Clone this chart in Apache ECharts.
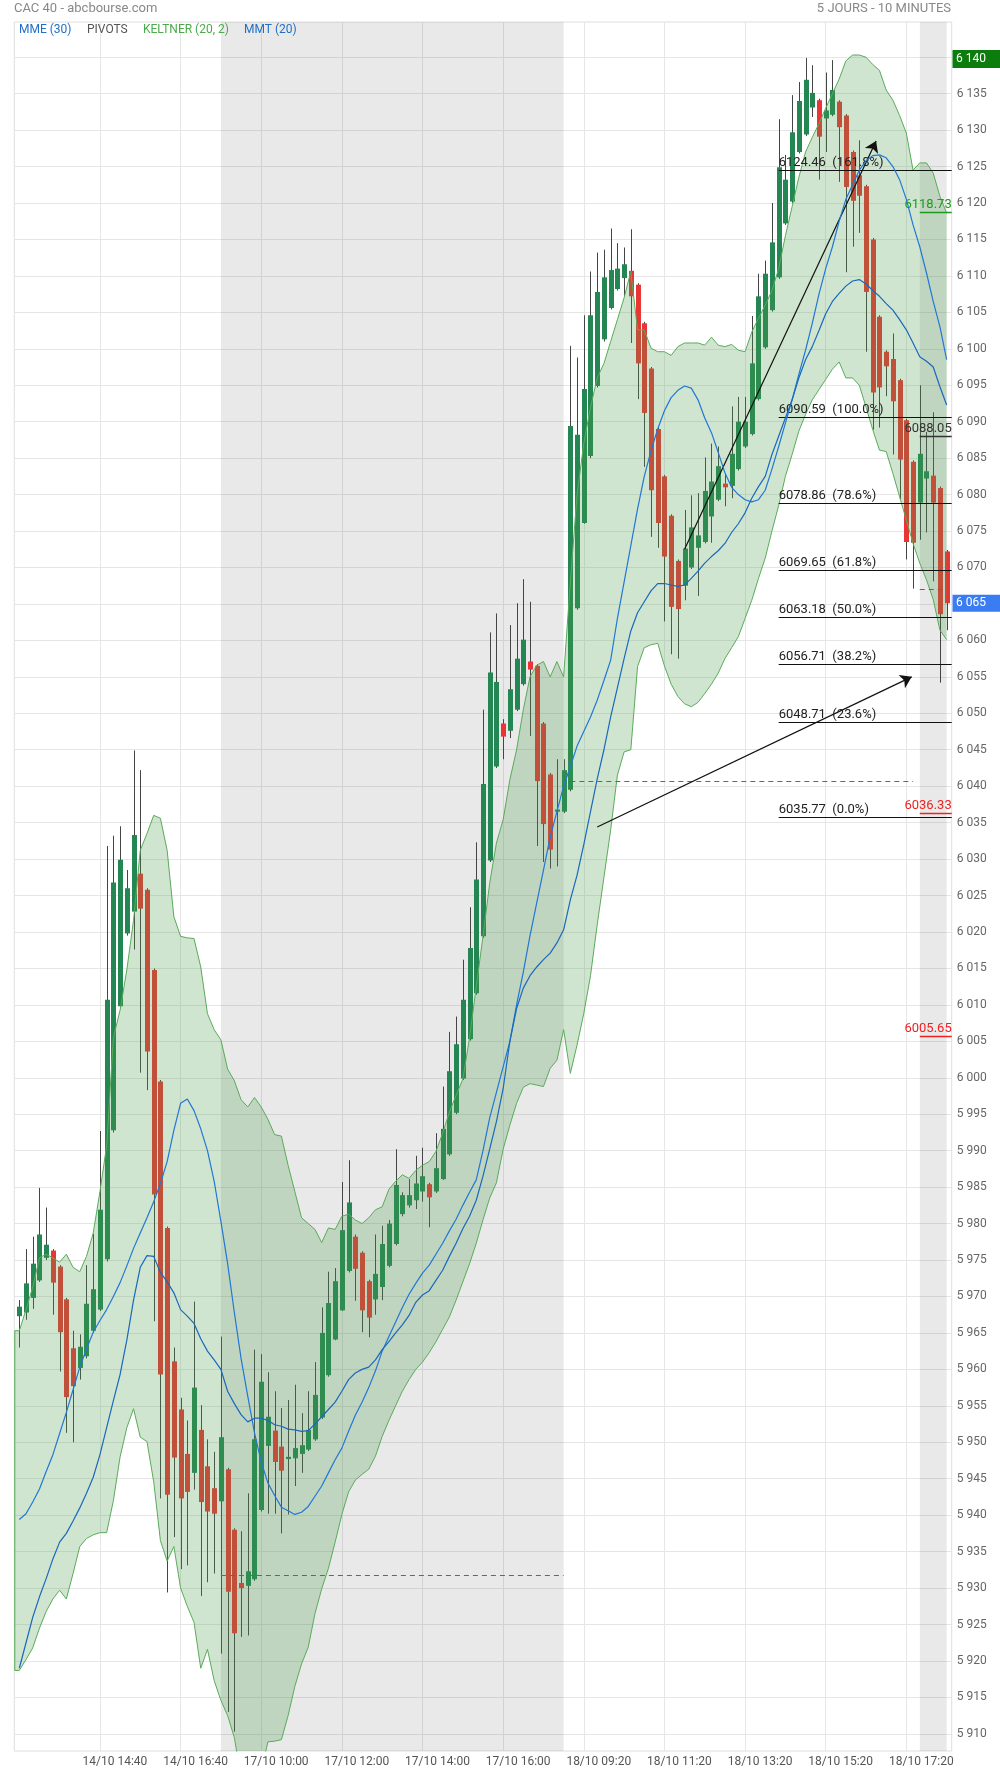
<!DOCTYPE html>
<html><head><meta charset="utf-8">
<script src="https://cdn.jsdelivr.net/npm/echarts@6/dist/echarts.min.js"></script>
<style>html,body{margin:0;padding:0;background:#fff}#c{width:1000px;height:1774px}</style>
</head><body><div id="c"></div>
<script>
// ---------- DATA ----------
const opens = [5967.3,5967.8,5969.8,5972.2,5975.3,5976.3,5974.1,5969.6,5962.9,5960.2,
5961.8,5965.3,5968.2,5975.1,5992.8,6009.8,6019.8,6022.8,6028.0,6025.8,
6014.8,5999.5,5979.4,5961.1,5954.5,5948.4,5945.8,5951.7,5946.7,5943.7,
5941.9,5946.3,5938.0,5930.7,5930.3,5931.2,5940.7,5949.5,5951.6,5949.4,
5947.7,5947.8,5948.4,5949.0,5950.4,5953.4,5959.2,5964.1,5968.1,5973.5,
5978.2,5976.0,5972.1,5969.6,5971.3,5974.2,5977.2,5981.3,5982.5,5983.2,
5984.4,5985.4,5984.4,5986.1,5989.5,5995.2,5999.9,6005.3,6011.6,6019.4,
6029.8,6042.7,6048.6,6047.6,6050.5,6054.0,6057.1,6056.5,6048.6,6041.6,
6036.5,6036.5,6039.5,6064.4,6076.1,6085.3,6094.9,6101.3,6105.6,6108.2,
6109.7,6110.7,6108.8,6103.5,6097.3,6089.0,6082.5,6077.1,6070.9,6067.5,
6070.0,6072.7,6073.5,6077.0,6079.3,6081.5,6081.2,6083.5,6086.6,6088.3,
6093.1,6100.2,6105.3,6109.8,6117.2,6120.2,6127.0,6129.4,6133.1,6134.1,
6131.6,6132.1,6133.9,6132.0,6127.0,6123.8,6122.3,6115.0,6104.4,6099.6,
6098.6,6095.7,6090.2,6084.5,6078.9,6082.2,6082.6,6080.9,6072.2];
const closes = [5968.6,5971.8,5974.5,5978.5,5977.1,5971.9,5965.1,5956.2,5957.7,5963.1,
5969.0,5971.0,5981.9,6010.7,6026.8,6029.9,6026.0,6033.3,6023.2,6003.6,
5984.0,5959.3,5942.8,5947.9,5942.3,5943.2,5957.5,5941.8,5940.5,5940.2,
5950.7,5929.5,5923.8,5930.0,5932.3,5950.4,5958.3,5953.5,5947.3,5946.1,
5948.0,5949.2,5949.6,5951.7,5956.5,5965.0,5969.1,5972.1,5979.1,5982.9,
5973.8,5968.1,5967.1,5973.1,5977.2,5980.0,5985.3,5983.9,5983.9,5985.5,
5986.5,5983.6,5987.6,5993.0,6000.9,6004.6,6010.7,6017.8,6027.2,6040.3,
6055.6,6054.3,6046.8,6053.3,6057.5,6060.1,6056.0,6040.7,6034.8,6031.3,
6036.8,6042.2,6089.4,6088.2,6094.5,6104.6,6107.8,6109.8,6110.8,6111.0,
6111.6,6107.2,6098.0,6091.2,6080.6,6076.1,6071.5,6064.6,6064.3,6072.6,
6075.5,6074.4,6080.5,6081.8,6083.9,6081.0,6085.6,6090.0,6090.0,6098.0,
6107.2,6110.3,6114.6,6124.9,6123.2,6129.7,6134.0,6136.9,6135.1,6129.1,
6132.7,6135.5,6130.4,6122.2,6120.3,6121.0,6107.8,6094.0,6094.7,6097.6,
6092.8,6084.8,6073.5,6073.4,6085.6,6083.2,6078.9,6063.6,6065.1];
const highs = [5969.5,5976.5,5978.2,5984.9,5982.2,5976.5,5974.3,5969.8,5965.3,5964.8,
5974.3,5978.6,5992.7,6031.8,6033.2,6034.5,6028.5,6044.9,6042.2,6026.0,
6015.0,5999.7,5979.6,5963.0,5956.1,5953.0,5969.3,5955.1,5950.4,5948.7,
5964.5,5946.5,5938.2,5937.8,5943.0,5962.7,5962.1,5959.6,5957.0,5954.7,
5955.8,5957.9,5954.0,5957.0,5961.0,5968.5,5973.4,5973.9,5985.7,5988.7,
5978.5,5976.2,5972.3,5978.5,5979.7,5980.5,5990.2,5984.3,5986.1,5989.3,
5990.4,5985.6,5992.4,5998.8,6006.3,6008.4,6016.2,6023.4,6032.3,6050.5,
6061.1,6063.7,6049.2,6062.1,6065.1,6068.4,6065.3,6056.7,6048.8,6041.8,
6043.7,6043.7,6100.4,6098.8,6104.6,6110.6,6113.2,6113.6,6116.5,6114.5,
6113.9,6116.4,6109.0,6103.7,6097.5,6089.2,6082.7,6077.3,6071.1,6077.9,
6079.9,6080.2,6085.1,6087.0,6086.6,6082.9,6092.1,6093.4,6093.4,6104.5,
6110.3,6112.1,6120.0,6131.5,6126.6,6134.8,6136.6,6139.9,6138.9,6134.3,
6137.9,6139.6,6134.1,6132.2,6127.2,6128.6,6122.5,6115.2,6104.6,6099.8,
6102.1,6095.9,6090.4,6084.7,6095.0,6088.6,6091.3,6081.1,6072.4];
const lows = [5963.0,5966.8,5968.3,5972.0,5975.0,5967.5,5959.7,5951.3,5950.0,5958.6,
5961.5,5965.0,5968.0,5974.8,5992.5,6009.5,6019.5,6017.6,6000.7,5998.3,
5966.6,5942.3,5929.4,5937.0,5932.6,5933.1,5943.5,5928.9,5930.8,5932.0,
5921.0,5913.0,5910.3,5923.3,5923.5,5931.0,5940.5,5940.2,5940.2,5937.5,
5940.1,5944.0,5945.8,5948.8,5950.2,5953.2,5959.0,5964.0,5968.0,5973.3,
5969.4,5965.1,5964.4,5967.5,5969.5,5974.0,5977.0,5981.0,5982.2,5982.0,
5983.0,5979.5,5984.2,5986.0,5989.3,5995.0,5999.7,6005.1,6011.4,6019.2,
6029.6,6042.5,6043.7,6046.6,6050.3,6053.8,6046.9,6031.8,6029.6,6028.7,
6029.0,6036.3,6039.3,6064.2,6076.0,6085.0,6094.7,6101.0,6105.4,6108.0,
6107.2,6100.8,6093.1,6083.8,6074.2,6072.7,6062.6,6058.1,6057.5,6065.5,
6069.8,6066.1,6073.3,6073.4,6079.1,6078.4,6079.5,6083.3,6086.4,6088.1,
6092.9,6100.0,6105.1,6109.6,6117.0,6120.0,6126.8,6129.2,6131.8,6123.2,
6127.0,6131.9,6122.9,6110.5,6114.0,6115.9,6099.6,6088.9,6089.2,6093.5,
6085.5,6079.4,6071.1,6067.1,6073.8,6074.8,6068.1,6054.2,6061.4];
const keltnerUpper = [5965.3,5968.2,5971.3,5975.3,5975.8,5975.3,5974.7,5975.8,5974.0,5973.4,
5975.5,5978.7,5984.4,5990.7,6005.5,6009.3,6014.8,6021.6,6031.2,6033.5,
6036.0,6035.6,6031.2,6022.1,6019.4,6019.2,6019.1,6015.2,6008.8,6006.6,
6005.2,6001.2,5999.6,5997.0,5996.0,5997.3,5996.0,5994.3,5992.2,5992.0,
5988.0,5984.4,5980.8,5980.0,5979.2,5977.4,5979.4,5979.2,5981.0,5981.3,
5980.5,5980.0,5980.8,5981.9,5982.3,5984.7,5985.8,5986.7,5986.2,5987.3,
5988.0,5988.5,5989.9,5992.4,5995.3,5997.6,5999.8,6005.5,6012.5,6019.4,
6026.7,6032.2,6035.4,6040.9,6045.0,6050.5,6055.0,6056.6,6057.1,6055.0,
6057.1,6055.0,6068.0,6080.0,6087.0,6092.0,6096.0,6098.0,6101.0,6104.0,
6107.0,6110.6,6102.6,6102.6,6100.1,6099.6,6099.6,6099.1,6100.3,6100.8,
6100.8,6100.8,6100.5,6101.6,6100.5,6100.3,6100.6,6099.8,6099.6,6102.3,
6104.2,6106.0,6108.0,6111.0,6115.5,6119.5,6123.5,6127.0,6129.0,6130.9,
6133.0,6135.0,6137.0,6139.5,6140.3,6140.3,6140.0,6139.0,6138.2,6135.5,
6134.1,6132.0,6129.6,6124.5,6125.5,6125.5,6124.1,6120.9,6118.6];
const keltnerLower = [5918.7,5920.2,5921.8,5924.5,5926.8,5928.5,5929.7,5928.5,5932.0,5935.7,
5936.8,5937.3,5937.6,5937.6,5942.0,5948.0,5952.0,5954.6,5950.7,5950.1,
5944.6,5936.5,5933.7,5935.7,5930.0,5927.5,5925.3,5919.0,5921.6,5917.3,
5914.6,5912.5,5909.5,5904.0,5902.0,5902.0,5905.0,5908.9,5909.0,5909.2,
5912.5,5916.5,5919.6,5921.9,5926.5,5929.9,5932.7,5936.3,5940.1,5943.2,
5944.8,5945.6,5946.3,5948.1,5950.8,5953.0,5955.0,5957.0,5958.6,5960.0,
5961.0,5962.3,5963.8,5965.5,5967.2,5969.5,5972.0,5974.5,5977.3,5980.5,
5983.5,5985.6,5990.2,5993.5,5996.5,5998.7,5999.2,5999.0,5998.8,6001.3,
6002.4,6006.6,6000.6,6004.5,6008.8,6014.0,6021.0,6027.5,6034.0,6041.5,
6044.7,6045.0,6056.4,6059.0,6059.4,6059.6,6056.5,6054.0,6052.3,6051.3,
6050.9,6051.5,6052.7,6054.0,6055.5,6057.5,6059.0,6060.5,6063.0,6065.5,
6068.5,6071.3,6075.0,6078.5,6082.5,6085.5,6088.7,6091.0,6093.0,6094.4,
6095.8,6097.2,6098.2,6096.0,6096.0,6095.0,6092.0,6088.9,6086.1,6085.9,
6082.9,6079.7,6076.5,6073.3,6070.6,6068.3,6065.6,6061.4,6060.1];
const mmt20 = [5939.4,5940.2,5941.8,5943.6,5946.0,5948.3,5951.2,5954.1,5957.2,5960.3,
5962.8,5965.1,5966.7,5968.2,5970.0,5971.9,5974.2,5976.6,5978.7,5980.8,
5983.0,5985.5,5988.5,5992.8,5996.5,5997.1,5995.5,5993.0,5990.0,5985.8,
5980.3,5974.5,5967.8,5961.5,5956.3,5951.3,5947.3,5944.4,5942.7,5941.1,
5940.6,5940.1,5940.4,5941.2,5942.6,5944.0,5945.8,5947.6,5949.2,5951.5,
5953.7,5955.5,5957.5,5959.8,5962.5,5964.5,5966.5,5968.5,5970.3,5971.8,
5973.2,5974.3,5975.8,5977.3,5979.0,5980.6,5982.5,5984.3,5986.0,5990.0,
5994.5,5998.0,6001.5,6005.0,6010.0,6014.5,6019.5,6024.0,6028.5,6033.0,
6036.5,6040.0,6042.7,6045.5,6047.5,6049.5,6051.8,6054.5,6057.3,6063.0,
6068.0,6073.0,6078.0,6082.5,6086.0,6089.0,6091.5,6093.3,6094.3,6094.9,
6094.6,6093.0,6090.5,6088.5,6085.8,6083.0,6081.0,6080.0,6079.3,6079.0,
6079.3,6080.6,6083.5,6086.6,6089.8,6093.0,6096.5,6099.8,6103.5,6107.5,
6111.0,6114.0,6117.5,6120.5,6122.5,6124.5,6125.8,6126.5,6126.6,6126.2,
6125.0,6123.2,6120.5,6117.0,6114.0,6110.4,6106.5,6103.0,6098.5];
const mme30 = [5919.0,5922.5,5926.0,5928.8,5931.3,5934.0,5936.3,5937.5,5939.2,5941.0,
5943.0,5945.2,5948.3,5952.0,5955.7,5959.3,5964.0,5969.5,5974.0,5975.6,
5975.5,5973.3,5972.0,5970.5,5968.2,5967.3,5966.3,5964.2,5962.5,5961.3,
5960.0,5957.0,5955.3,5953.8,5952.8,5953.3,5953.3,5953.0,5952.4,5952.2,
5951.8,5951.7,5951.5,5951.6,5952.5,5953.5,5954.5,5955.5,5957.0,5958.6,
5959.5,5960.0,5960.3,5961.3,5962.7,5963.8,5965.0,5966.1,5967.4,5969.2,
5970.2,5970.8,5972.2,5973.6,5975.5,5977.3,5979.3,5981.0,5983.2,5986.5,
5990.2,5994.0,5998.5,6005.0,6009.5,6012.3,6014.0,6015.2,6016.2,6017.1,
6018.5,6020.3,6024.4,6027.8,6032.0,6036.5,6041.0,6045.0,6049.5,6053.5,
6057.5,6061.3,6063.8,6065.3,6066.8,6067.8,6067.8,6067.6,6067.4,6067.6,
6068.5,6069.5,6070.6,6071.5,6072.3,6073.3,6074.8,6076.0,6077.5,6079.5,
6081.1,6082.5,6085.5,6088.0,6090.5,6093.0,6096.0,6098.5,6100.3,6102.5,
6104.8,6106.5,6107.6,6108.6,6109.3,6109.5,6108.9,6108.0,6107.2,6106.2,
6105.3,6104.0,6102.6,6100.8,6098.9,6098.3,6097.5,6094.8,6092.3];

const xTickIndex = [12,24,36,48,60,72,84,96,108,120,132];
const xTickLabels = ['14/10 14:40','14/10 16:40','17/10 10:00','17/10 12:00','17/10 14:00','17/10 16:00',
  '18/10 09:20','18/10 11:20','18/10 13:20','18/10 15:20','18/10 17:20'];
const yTickValues = [5910,5915,5920,5925,5930,5935,5940,5945,5950,5955,5960,5965,5970,5975,5980,5985,
  5990,5995,6000,6005,6010,6015,6020,6025,6030,6035,6040,6045,6050,6055,6060,6065,6070,6075,6080,
  6085,6090,6095,6100,6105,6110,6115,6120,6125,6130,6135,6140];
const sessionShade = [[30,81],[134,138]];
const fibLevels = [6124.46,6090.59,6078.86,6069.65,6063.18,6056.71,6048.71,6035.77];
const fibPercents = ['161.8%','100.0%','78.6%','61.8%','50.0%','38.2%','23.6%','0.0%'];
const fibStart = 113;
const pivotLevels = [6118.73,6088.05,6036.33,6005.65];
const pivotColors = ['#1f9a1f','#333333','#ee2222','#ee2222'];
const dayPivots = [[30,81,5931.8],[82,133,6040.7],[134,138,6067.0]];
const arrowLines = [[[99,6072.5],[127.5,6128.5]],[[86,6034.4],[132.8,6055.0]]];

// ---------- CHART ----------
const FONT = 'Roboto';
const X_MIN = -0.744, X_MAX = 138.75, Y_MIN = 5907.65, Y_MAX = 6144.83;
const fmtK = v => { const s = String(Math.round(v)); return s.slice(0, -3) + ' ' + s.slice(-3); };
const N = opens.length;
const candleData = opens.map((o, i) => [i, o, closes[i], lows[i], highs[i]]);
const pairs = arr => arr.map((v, i) => [i, v]);

const markData = [];
fibLevels.forEach((v, k) => {
  markData.push([
    {coord: [fibStart, v], symbol: 'none', lineStyle: {color: '#111', width: 1, type: 'solid'},
     label: {show: true, position: 'insideStartTop', formatter: v.toFixed(2) + '  (' + fibPercents[k] + ')',
             color: '#222', fontSize: 13, fontFamily: FONT, distance: [0, 1]}},
    {coord: [X_MAX, v], symbol: 'none'}
  ]);
});
pivotLevels.forEach((v, k) => {
  markData.push([
    {coord: [134, v], symbol: 'none', lineStyle: {color: pivotColors[k], width: 1.3, type: 'solid'},
     label: {show: true, position: 'insideEndTop', formatter: v.toFixed(2), color: pivotColors[k],
             fontSize: 13, fontFamily: FONT, distance: [0, 1]}},
    {coord: [X_MAX, v], symbol: 'none'}
  ]);
});
dayPivots.forEach(d => {
  markData.push([
    {coord: [d[0], d[2]], symbol: 'none', lineStyle: {color: '#e8302a', width: 1, type: [5, 4]}, label: {show: false}},
    {coord: [d[1], d[2]], symbol: 'none'}
  ]);
});
arrowLines.forEach(a => {
  markData.push([
    {coord: a[0], symbol: 'none', lineStyle: {color: '#111', width: 1.2, type: 'solid'}, label: {show: false}},
    {coord: a[1], symbol: 'arrow', symbolSize: 11}
  ]);
});

const chart = echarts.init(document.getElementById('c'), null, {renderer: 'canvas'});
const option = {
  animation: false,
  backgroundColor: '#ffffff',
  grid: {left: 14.3, right: 48.3, top: 22, bottom: 23, show: true, borderColor: '#dedede', borderWidth: 1},
  xAxis: {
    type: 'value', min: X_MIN, max: X_MAX,
    axisLine: {show: false},
    axisTick: {show: false, customValues: xTickIndex},
    splitLine: {show: true, lineStyle: {color: '#e6e6e6', width: 1}},
    axisLabel: {customValues: xTickIndex, formatter: v => xTickLabels[xTickIndex.indexOf(Math.round(v))] || '',
      color: '#555', fontFamily: FONT, fontSize: 12, margin: 5, padding: [0, 0, 0, 30]}
  },
  yAxis: {
    type: 'value', position: 'right', min: Y_MIN, max: Y_MAX, scale: true,
    axisLine: {show: false},
    axisTick: {show: false, customValues: yTickValues},
    splitLine: {show: true, lineStyle: {color: '#e6e6e6', width: 1}},
    axisLabel: {customValues: yTickValues, formatter: fmtK, color: '#666', fontFamily: FONT, fontSize: 12,
      margin: 5, padding: [0, 0, 5, 0]}
  },
  series: [
    { // day shading
      type: 'custom', data: sessionShade, encode: {x: [0, 1]}, z: 1, silent: true,
      renderItem: (params, api) => {
        const cs = params.coordSys;
        const a = api.coord([api.value(0), Y_MAX]);
        const b = api.coord([api.value(1), Y_MAX]);
        return {type: 'rect', shape: {x: a[0], y: cs.y, width: b[0] - a[0], height: cs.height},
                style: {fill: 'rgba(0,0,0,0.085)'}};
      }
    },
    { // candles
      type: 'custom', data: candleData, encode: {x: 0, y: [1, 2, 3, 4]}, clip: true, z: 2, silent: true,
      renderItem: (params, api) => {
        const i = api.value(0), o = api.value(1), c = api.value(2), l = api.value(3), h = api.value(4);
        const pO = api.coord([i, o]), pC = api.coord([i, c]), pL = api.coord([i, l]), pH = api.coord([i, h]);
        const x = Math.round(pO[0]) + 0.5;
        const top = Math.min(pO[1], pC[1]), bot = Math.max(pO[1], pC[1]);
        const up = c >= o;
        return {type: 'group', children: [
          {type: 'line', shape: {x1: x, y1: pH[1], x2: x, y2: pL[1]}, style: {stroke: '#454545', lineWidth: 1}},
          {type: 'rect', shape: {x: x - 2.5, y: top, width: 5, height: Math.max(1.2, bot - top)},
           style: {fill: up ? '#248652' : '#eb3434'}}
        ]};
      }
    },
    { // keltner fill (extended to the plot's left border like the original)
      type: 'custom', data: [[0, keltnerUpper[0]]], encode: {x: 0, y: 1}, clip: true, z: 3, silent: true,
      renderItem: (params, api) => {
        const cs = params.coordSys;
        const up0 = api.coord([0, keltnerUpper[0]]), lo0 = api.coord([0, keltnerLower[0]]);
        const pts = [[cs.x, up0[1]]];
        for (let i = 0; i < N; i++) pts.push(api.coord([i, keltnerUpper[i]]));
        for (let i = N - 1; i >= 0; i--) pts.push(api.coord([i, keltnerLower[i]]));
        pts.push([cs.x, lo0[1]]);
        return {type: 'group', children: [
          {type: 'polygon', shape: {points: pts}, style: {fill: 'rgba(76,160,76,0.27)'}},
          {type: 'polyline', shape: {points: [[up0[0], up0[1]], [cs.x + 0.5, up0[1]], [cs.x + 0.5, lo0[1]], [lo0[0], lo0[1]]]},
           style: {stroke: '#5aab5a', lineWidth: 1, fill: null}}
        ]};
      }
    },
    {type: 'line', name: 'KU', data: pairs(keltnerUpper), symbol: 'none', z: 4, silent: true,
     lineStyle: {color: '#5aab5a', width: 1}},
    {type: 'line', name: 'KL', data: pairs(keltnerLower), symbol: 'none', z: 4, silent: true,
     lineStyle: {color: '#5aab5a', width: 1}},
    {type: 'line', name: 'MMT (20)', data: pairs(mmt20), symbol: 'none', z: 5, silent: true,
     lineStyle: {color: '#2277d6', width: 1.2}},
    {type: 'line', name: 'MME (30)', data: pairs(mme30), symbol: 'none', z: 5, silent: true,
     lineStyle: {color: '#1a68bd', width: 1.2}},
    {type: 'line', name: 'marks', data: [], z: 6, silent: true,
     markLine: {silent: true, animation: false, symbol: 'none', data: markData}}
  ]
};
chart.setOption(option);

// value boxes on the price axis and header texts
const maxHigh = Math.max.apply(null, highs);
const lastClose = closes[N - 1];
const yHigh = chart.convertToPixel({yAxisIndex: 0}, maxHigh);
const yLast = chart.convertToPixel({yAxisIndex: 0}, lastClose);
const txt = (x, y, text, fill, size, align) => ({type: 'text', x: x, y: y, z: 100,
  style: {text: text, fill: fill, font: size + 'px ' + FONT, verticalAlign: 'middle', align: align || 'left'}});
chart.setOption({graphic: [
  txt(14, 8.5, 'CAC 40 - abcbourse.com', '#888', 13),
  txt(951, 8.5, '5 JOURS - 10 MINUTES', '#888', 13, 'right'),
  txt(19, 29.5, 'MME (30)', '#1f6fc8', 12),
  txt(87, 29.5, 'PIVOTS', '#555', 12),
  txt(143, 29.5, 'KELTNER (20, 2)', '#4caa4c', 12),
  txt(244, 29.5, 'MMT (20)', '#1f6fc8', 12),
  {type: 'rect', z: 100, shape: {x: 952.5, y: yHigh - 8, width: 48, height: 18}, style: {fill: '#0c7d0c'}},
  txt(956, yHigh + 1, fmtK(maxHigh), '#ffffff', 12),
  {type: 'rect', z: 100, shape: {x: 952.5, y: yLast - 8.5, width: 48, height: 17}, style: {fill: '#3a7cf2'}},
  txt(956, yLast, fmtK(lastClose), '#ffffff', 12)
]});
</script>
</body></html>
